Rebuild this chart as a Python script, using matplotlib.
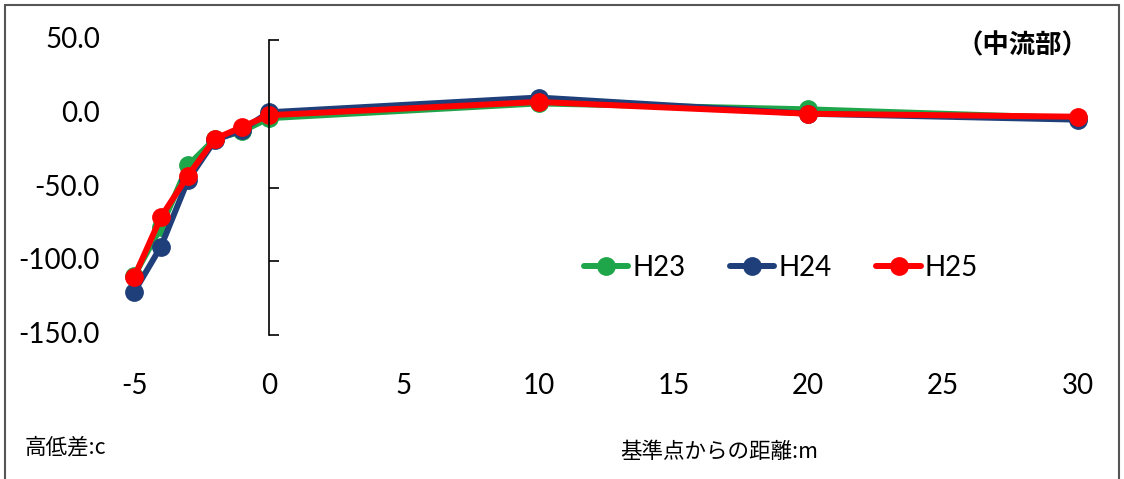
import matplotlib
matplotlib.use("Agg")
import matplotlib.pyplot as plt
import matplotlib.transforms as mtransforms
from matplotlib.patches import Rectangle

plt.rcParams['font.family'] = ['Lato', 'Noto Sans CJK JP', 'DejaVu Sans']

# distance from reference point (m)
distance = [-5, -4, -3, -2, -1, 0, 10, 20, 30]
# height difference per survey year
h23 = [-110, -77, -35, -17, -12, -3, 7, 3, -3]
h24 = [-121, -90, -45, -18, -11, 1, 11, 0, -4]
h25 = [-111, -70, -42, -17, -9, -1, 8, 0, -2]

series = [("H23", h23, "#1FA64A"), ("H24", h24, "#1F3F7A"), ("H25", h25, "#FF0000")]

y_ticks = [50.0, 0.0, -50.0, -100.0, -150.0]
x_ticks = [-5, 0, 5, 10, 15, 20, 25, 30]

W, H = 1124, 479
fig = plt.figure(figsize=(W / 100, H / 100), dpi=100)
fig.patch.set_facecolor("white")

# outer chart frame
fig.patches.append(Rectangle((5 / W, -0.05), (1119 - 5) / W, 1.05 - 5 / H,
                             transform=fig.transFigure, fill=False,
                             edgecolor="#555555", linewidth=1.5))

left, right = 134 / W, 1078 / W
bottom, top = 1 - 335 / H, 1 - 40 / H
ax = fig.add_axes([left, bottom, right - left, top - bottom])

for name, vals, col in series:
    ax.plot(distance, vals, color=col, linewidth=4.3, marker="o",
            markersize=12.5, label=name, solid_capstyle="round", clip_on=False)

ax.set_xlim(-5, 30)
ax.set_ylim(-150, 50)

# vertical axis crosses at x = 0
for s in ["top", "right", "bottom"]:
    ax.spines[s].set_visible(False)
ax.spines["left"].set_position(("data", 0))
ax.spines["left"].set_color("#000000")
ax.spines["left"].set_linewidth(1.2)
ax.set_yticks(y_ticks)
ax.tick_params(axis="y", direction="in", length=7, width=1.2, labelleft=False)

blend = mtransforms.blended_transform_factory(fig.transFigure, ax.transData)
for v in y_ticks:
    fig.text(100 / W, v, f"{v:.1f}", transform=blend, ha="right", va="center",
             fontsize=20, color="#000000")

ax.set_xticks(x_ticks)
ax.set_xticklabels([str(t) for t in x_ticks])
ax.tick_params(axis="x", length=0, pad=27, labelsize=20)

leg = fig.legend(loc="center", bbox_to_anchor=(781 / W, 1 - 268 / H), ncol=3,
                 frameon=False, fontsize=20, handlelength=1.6,
                 handletextpad=0.15, columnspacing=1.6)

fig.text(1088 / W, 1 - 46 / H, "（中流部）", ha="right", va="center",
         fontsize=19, fontweight="bold", family=["Noto Sans CJK JP"])
fig.text(25 / W, 1 - 447 / H, "高低差:c", ha="left", va="center",
         fontsize=15.5, family=["Noto Sans CJK JP", "DejaVu Sans"])
fig.text(620 / W, 1 - 452 / H, "基準点からの距離:m", ha="left", va="center",
         fontsize=15.5, family=["Noto Sans CJK JP", "DejaVu Sans"])

fig.savefig("out.png", dpi=100)
